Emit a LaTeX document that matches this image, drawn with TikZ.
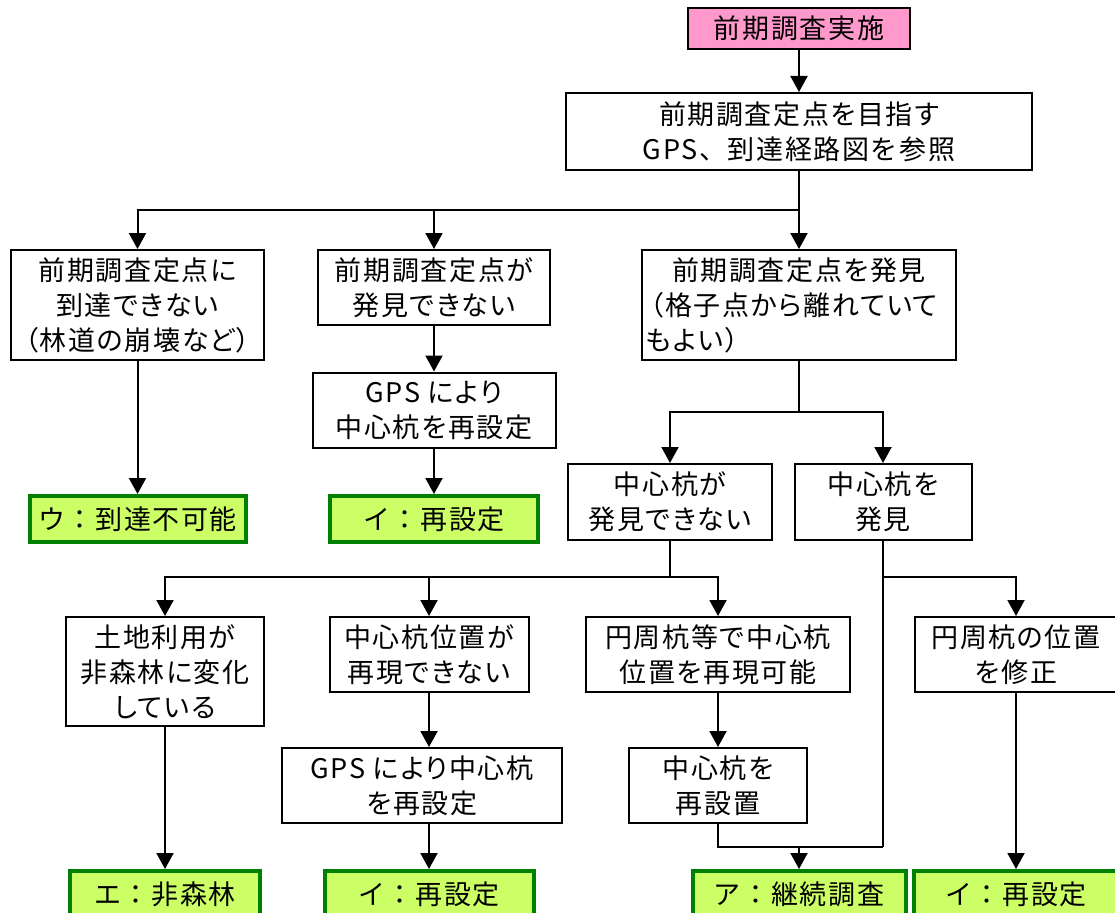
\documentclass[tikz,border=0pt]{standalone}
\usepackage{fontspec}
\setmainfont{Noto Sans CJK JP}[RawFeature=+palt, LetterSpace=6]
\newfontfamily\jpfull{Noto Sans CJK JP}[LetterSpace=6]
\usetikzlibrary{arrows.meta}
\definecolor{pinkfill}{HTML}{FF99CC}
\definecolor{greenfill}{HTML}{CCFF66}
\definecolor{greenline}{HTML}{008000}
\begin{document}
\begin{tikzpicture}[x=1pt,y=-1pt,
  box/.style={draw=black, line width=2pt, fill=white, inner sep=2pt, align=center,
    font=\fontsize{27}{35}\selectfont},
  goalbox/.style={box, draw=greenline, line width=4pt, fill=greenfill, minimum height=46pt,
    font=\jpfull\fontsize{27}{35}\selectfont},
  arr/.style={line width=2pt, -{Triangle[width=17pt,length=16pt]}},
  ln/.style={line width=2pt}]
\useasboundingbox (0,0) rectangle (1115,912);

% boxes
\node[box, fill=pinkfill, minimum width=222pt, minimum height=41pt] (start) at (799,28.5) {前期調査実施};
\node[box, minimum width=466pt, minimum height=77pt] (aim) at (799,131.5) {前期調査定点を目指す\\{\jpfull GPS、到達経路図を参照}};
\node[box, minimum width=253pt, minimum height=110pt] (cant) at (137.5,305) {前期調査定点に\\到達できない\\（林道の崩壊など）};
\node[box, minimum width=232pt, minimum height=75pt] (notfound) at (434,287.5) {前期調査定点が\\発見できない};
\node[box, minimum width=314pt, minimum height=110pt, text width=306pt, align=left] (found) at (799,305)
  {\makebox[306pt][c]{前期調査定点を発見}\\\hspace*{4pt}（格子点から離れていて\\もよい）};
\node[box, minimum width=243pt, minimum height=75pt] (gps1) at (434,410) {GPS により\\中心杭を再設定};
\node[goalbox, minimum width=216pt] (u) at (137.5,519) {ウ：到達不可能};
\node[goalbox, minimum width=208pt] (i1) at (434,519) {イ：再設定};
\node[box, minimum width=204pt, minimum height=76pt] (stakenf) at (670,502) {中心杭が\\発見できない};
\node[box, minimum width=177pt, minimum height=76pt] (stakef) at (883,502) {中心杭を\\発見};
\node[box, minimum width=198pt, minimum height=109pt] (landuse) at (165,671.5) {土地利用が\\非森林に変化\\している};
\node[box, minimum width=199pt, minimum height=75pt] (cantrep) at (429,654.5) {中心杭位置が\\再現できない};
\node[box, minimum width=264pt, minimum height=75pt] (canrep) at (718,654.5) {円周杭等で中心杭\\位置を再現可能};
\node[box, minimum width=202pt, minimum height=75pt] (fix) at (1016,654.5) {円周杭の位置\\を修正};
\node[box, minimum width=280pt, minimum height=75pt] (gps2) at (422,785.5) {GPS により中心杭\\を再設定};
\node[box, minimum width=178pt, minimum height=75pt] (reset) at (718,785.5) {中心杭を\\再設置};
\node[goalbox, minimum width=190pt] (e) at (165,894) {エ：非森林};
\node[goalbox, minimum width=209pt] (i2) at (429,894) {イ：再設定};
\node[goalbox, minimum width=213pt] (a) at (799,894) {ア：継続調査};
\node[goalbox, minimum width=204pt] (i4) at (1016,894) {イ：再設定};

% connectors
\draw[arr] (start.south) -- (aim.north);
\coordinate (b1) at (799,210);
\draw[ln] (aim.south) -- (b1);
\draw[arr] (b1) -- (found.north);
\draw[arr] (b1) -| (cant.north);
\draw[arr] (b1) -| (notfound.north);
\draw[arr] (cant.south) -- (u.north);
\draw[arr] (notfound.south) -- (gps1.north);
\draw[arr] (gps1.south) -- (i1.north);

\coordinate (b2) at (799,412);
\draw[ln] (found.south) -- (b2);
\draw[arr] (b2) -| (stakenf.north);
\draw[arr] (b2) -| (stakef.north);

\coordinate (b3) at (670,577);
\draw[ln] (stakenf.south) -- (b3);
\draw[arr] (b3) -| (landuse.north);
\draw[arr] (b3) -| (cantrep.north);
\draw[arr] (b3) -| (canrep.north);

\coordinate (b4) at (883,577);
\coordinate (m1) at (883,847);
\draw[ln] (stakef.south) -- (m1);
\draw[arr] (b4) -| (fix.north);

\draw[arr] (landuse.south) -- (e.north);
\draw[arr] (cantrep.south) -- (cantrep.south |- gps2.north);
\draw[arr] (i2.north |- gps2.south) -- (i2.north);
\draw[arr] (canrep.south) -- (reset.north);
\draw[ln] (reset.south) |- (m1);
\coordinate (m2) at (799,847);
\draw[arr] (m2) -- (a.north);
\draw[arr] (fix.south) -- (i4.north);
\end{tikzpicture}
\end{document}
